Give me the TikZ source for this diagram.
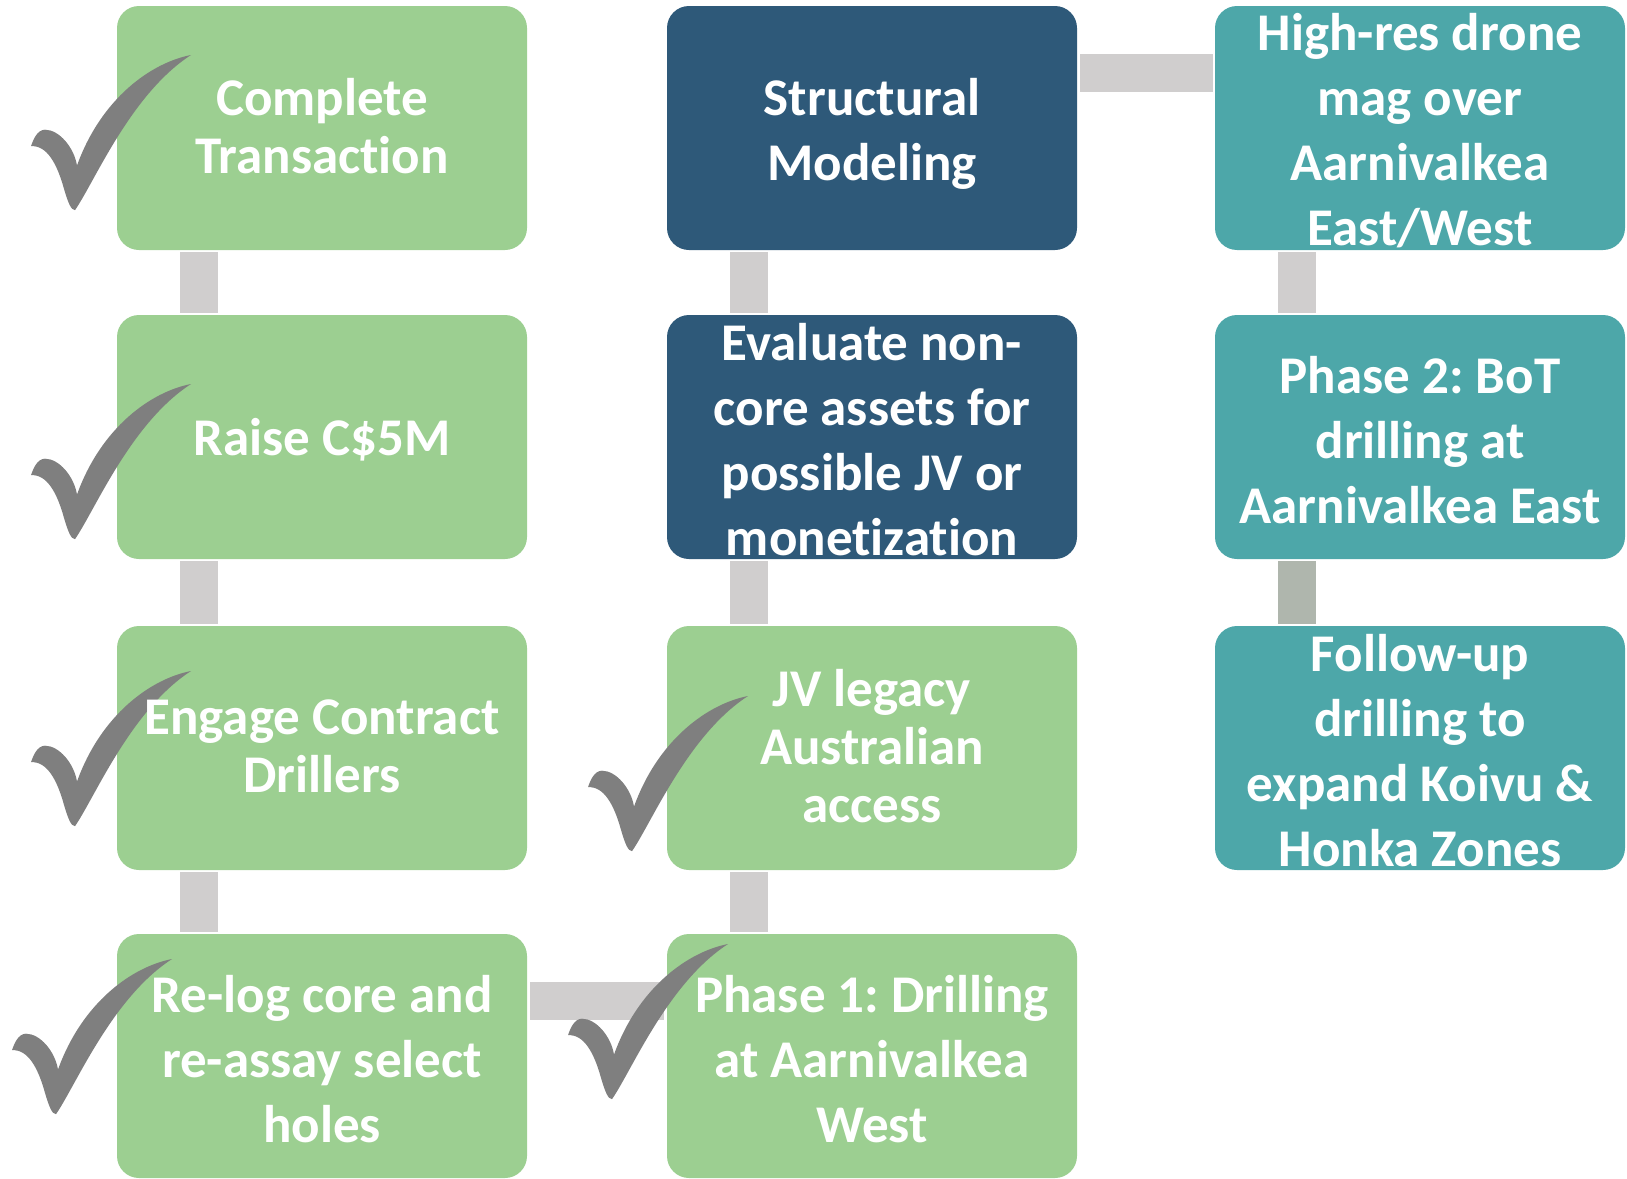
\documentclass[tikz,border=0pt]{standalone}
\usepackage{fontspec}
\setmainfont[Ligatures={NoCommon,NoRequired,NoContextual}]{Carlito}
\frenchspacing

\definecolor{boxgreen}{HTML}{9CCF91}
\definecolor{boxnavy}{HTML}{2E5979}
\definecolor{boxteal}{HTML}{4DA7A9}
\definecolor{linkgray}{HTML}{D0CECE}
\definecolor{linksage}{HTML}{AFB6AD}
\definecolor{tickgray}{HTML}{7F7F7F}

\tikzset{
    card/.style={rectangle, rounded corners=11pt, minimum width=205pt, minimum height=122pt, inner sep=0pt},
    greencard/.style={card, fill=boxgreen},
    navycard/.style={card, fill=boxnavy},
    tealcard/.style={card, fill=boxteal},
    cardtext/.style={text=white, align=center, inner sep=0pt, yshift=-1.5pt, font=\bfseries\fontsize{26.5pt}{32.5pt}\selectfont},
    tighttext/.style={text=white, align=center, inner sep=0pt, yshift=1pt, font=\bfseries\fontsize{26.5pt}{29pt}\selectfont},
    link/.style={draw=linkgray, line width=19pt, shorten <=1pt, shorten >=1pt},
    tick/.pic={
        \fill[tickgray, yscale=0.97] (160,0) .. controls (120,8) and (70,45) .. (46,114)
            .. controls (43,95) and (28,77) .. (14,77)
            .. controls (6,77) and (2,88) .. (0,94)
            .. controls (16,93) and (26,112) .. (33,138)
            .. controls (37,152) and (40,160) .. (44,160)
            .. controls (64,130) and (100,40) .. (160,0) -- cycle;
    }
}

\begin{document}
\begin{tikzpicture}[x=0.5pt, y=-0.5pt]
        \useasboundingbox (0,0) rectangle (1627,1178);

        % Left column: done steps
        \node[greencard] (ct) at (322,128) {};
        \node[greencard] (rc) at (322,437) {};
        \node[greencard] (ecd) at (322,748) {};
        \node[greencard] (rlc) at (322,1056) {};

        % Middle column
        \node[navycard] (sm) at (872,128) {};
        \node[navycard] (enc) at (872,437) {};
        \node[greencard] (jv) at (872,748) {};
        \node[greencard] (ph1) at (872,1056) {};

        % Right column: next steps
        \node[tealcard] (hrd) at (1420,128) {};
        \node[tealcard] (ph2) at (1420,437) {};
        \node[tealcard] (fu) at (1420,748) {};

        % Vertical links
        \foreach \a/\b in {ct/rc, rc/ecd, ecd/rlc, sm/enc, enc/jv, jv/ph1, hrd/ph2} {
            \draw[link] ([xshift=-61.5pt]\a.south) -- ([xshift=-61.5pt]\b.north);
        }
        \draw[link, draw=linksage] ([xshift=-61.5pt]ph2.south) -- ([xshift=-61.5pt]fu.north);

        % Horizontal links
        \draw[link, shorten <=1.5pt, shorten >=1pt] ([yshift=-33.5pt]sm.north east) -- ([yshift=-33.5pt]hrd.north west);
        \draw[link, shorten <=1.5pt, shorten >=1.5pt] ([yshift=-33.5pt]rlc.north east) -- ([yshift=-33.5pt]ph1.north west);

        % Check marks
        \pic (tk1) at (31,55) {tick};
        \pic (tk2) at (31,384) {tick};
        \pic (tk3) at (31,671) {tick};
        \pic (tk4) at (12,959) {tick};
        \pic (tk5) at (588,696) {tick};
        \pic (tk6) at (568,944) {tick};

        % Texts
        \node[tighttext] (ct-txt) at (ct) {Complete\\Transaction};
        \node[cardtext] (rc-txt) at (rc) {Raise C\$5M};
        \node[tighttext] (ecd-txt) at (ecd) {Engage Contract\\Drillers};
        \node[cardtext] (rlc-txt) at (rlc) {Re-log core and\\re-assay select\\holes};
        \node[cardtext, yshift=-1.5pt] (sm-txt) at (sm) {Structural\\Modeling};
        \node[cardtext] (enc-txt) at (enc) {Evaluate non-\\core assets for\\possible JV or\\monetization};
        \node[tighttext] (jv-txt) at (jv) {JV legacy\\Australian\\access};
        \node[cardtext] (ph1-txt) at (ph1) {Phase 1: Drilling\\at Aarnivalkea\\West};
        \node[cardtext] (hrd-txt) at (hrd) {High-res drone\\mag over\\Aarnivalkea\\East/West};
        \node[cardtext] (ph2-txt) at (ph2) {Phase 2: BoT\\drilling at\\Aarnivalkea East};
        \node[cardtext] (fu-txt) at (fu) {Follow-up\\drilling to\\expand Koivu \&\\Honka Zones};
    \end{tikzpicture}
\end{document}
